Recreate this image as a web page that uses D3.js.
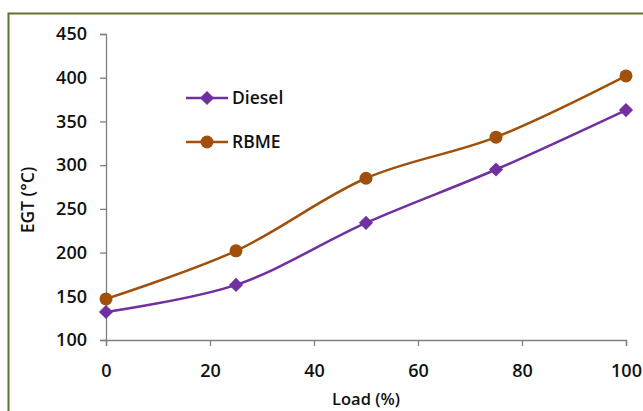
<!DOCTYPE html>
<html><head><meta charset="utf-8">
<script src="https://cdn.jsdelivr.net/npm/d3@7"></script>
<style>body{margin:0;background:#fff}svg{display:block}</style>
</head><body><svg id="c" width="643" height="411"></svg>
<script>
const loads = [0, 25, 50, 75, 100];
const diesel = [132, 163, 234, 295, 363];
const rbme = [147, 202, 285, 332, 402];
const xTicks = [0, 20, 40, 60, 80, 100];
const yTicks = [100, 150, 200, 250, 300, 350, 400, 450];
const seriesNames = ["Diesel", "RBME"];
const colors = ["#7030a0", "#a0500a"];

const svg = d3.select("#c");
const font = "'Open Sans', 'Liberation Sans', sans-serif";
svg.append("path").attr("d","M8.5,411 L8.5,13.5 L643,13.5").attr("fill","none").attr("stroke","#5f7532").attr("stroke-width",2);

const x = d3.scaleLinear().domain([0,100]).range([106,626]);
const y = d3.scaleLinear().domain([100,450]).range([340,34]);

const yAxis = svg.append("g").attr("transform","translate(106,0)")
  .call(d3.axisLeft(y).tickValues(yTicks).tickSize(6).tickPadding(13));
const xAxis = svg.append("g").attr("transform","translate(0,340)")
  .call(d3.axisBottom(x).tickValues(xTicks).tickSize(6).tickPadding(18));
[yAxis,xAxis].forEach(a=>{
  a.select(".domain").attr("stroke","#7f7f7f").attr("stroke-width",1.3);
  a.selectAll(".tick line").attr("stroke","#7f7f7f").attr("stroke-width",1.3);
  a.selectAll("text").attr("font-family",font).attr("font-weight",600).attr("font-size",18).attr("fill","#111");
});

svg.append("text").attr("transform","translate(34,200) rotate(-90)").attr("text-anchor","middle")
  .attr("font-family",font).attr("font-weight",600).attr("font-size",17.5).attr("fill","#111").text("EGT (°C)");
svg.append("text").attr("x",366).attr("y",405).attr("text-anchor","middle")
  .attr("font-family",font).attr("font-weight",600).attr("font-size",16.5).attr("fill","#111").text("Load (%)");

const data = [diesel, rbme];
const line = d3.line().x((d,i)=>x(loads[i])).y(d=>y(d)).curve(d3.curveCatmullRom.alpha(0.5));
const diamondPath = d3.symbol().type(d3.symbolSquare).size(100)();

function marker(g, si, cx, cy){
  if(si===0) g.append("path").attr("d",diamondPath).attr("transform",`translate(${cx},${cy}) rotate(45)`).attr("fill",colors[si]);
  else g.append("circle").attr("cx",cx).attr("cy",cy).attr("r",6.5).attr("fill",colors[si]);
}

data.forEach((vals,si)=>{
  svg.append("path").datum(vals).attr("d",line).attr("fill","none").attr("stroke",colors[si]).attr("stroke-width",2.5);
  const g = svg.append("g");
  vals.forEach((v,i)=> marker(g, si, x(loads[i]), y(v)));
});

const ly = [98, 142];
seriesNames.forEach((n,si)=>{
  svg.append("line").attr("x1",186).attr("x2",228).attr("y1",ly[si]).attr("y2",ly[si]).attr("stroke",colors[si]).attr("stroke-width",2.5);
  marker(svg, si, 207, ly[si]);
  svg.append("text").attr("x",232).attr("y",ly[si]+6).attr("font-family",font).attr("font-weight",600).attr("font-size",17.5).attr("fill","#111").text(n);
});
</script></body></html>
